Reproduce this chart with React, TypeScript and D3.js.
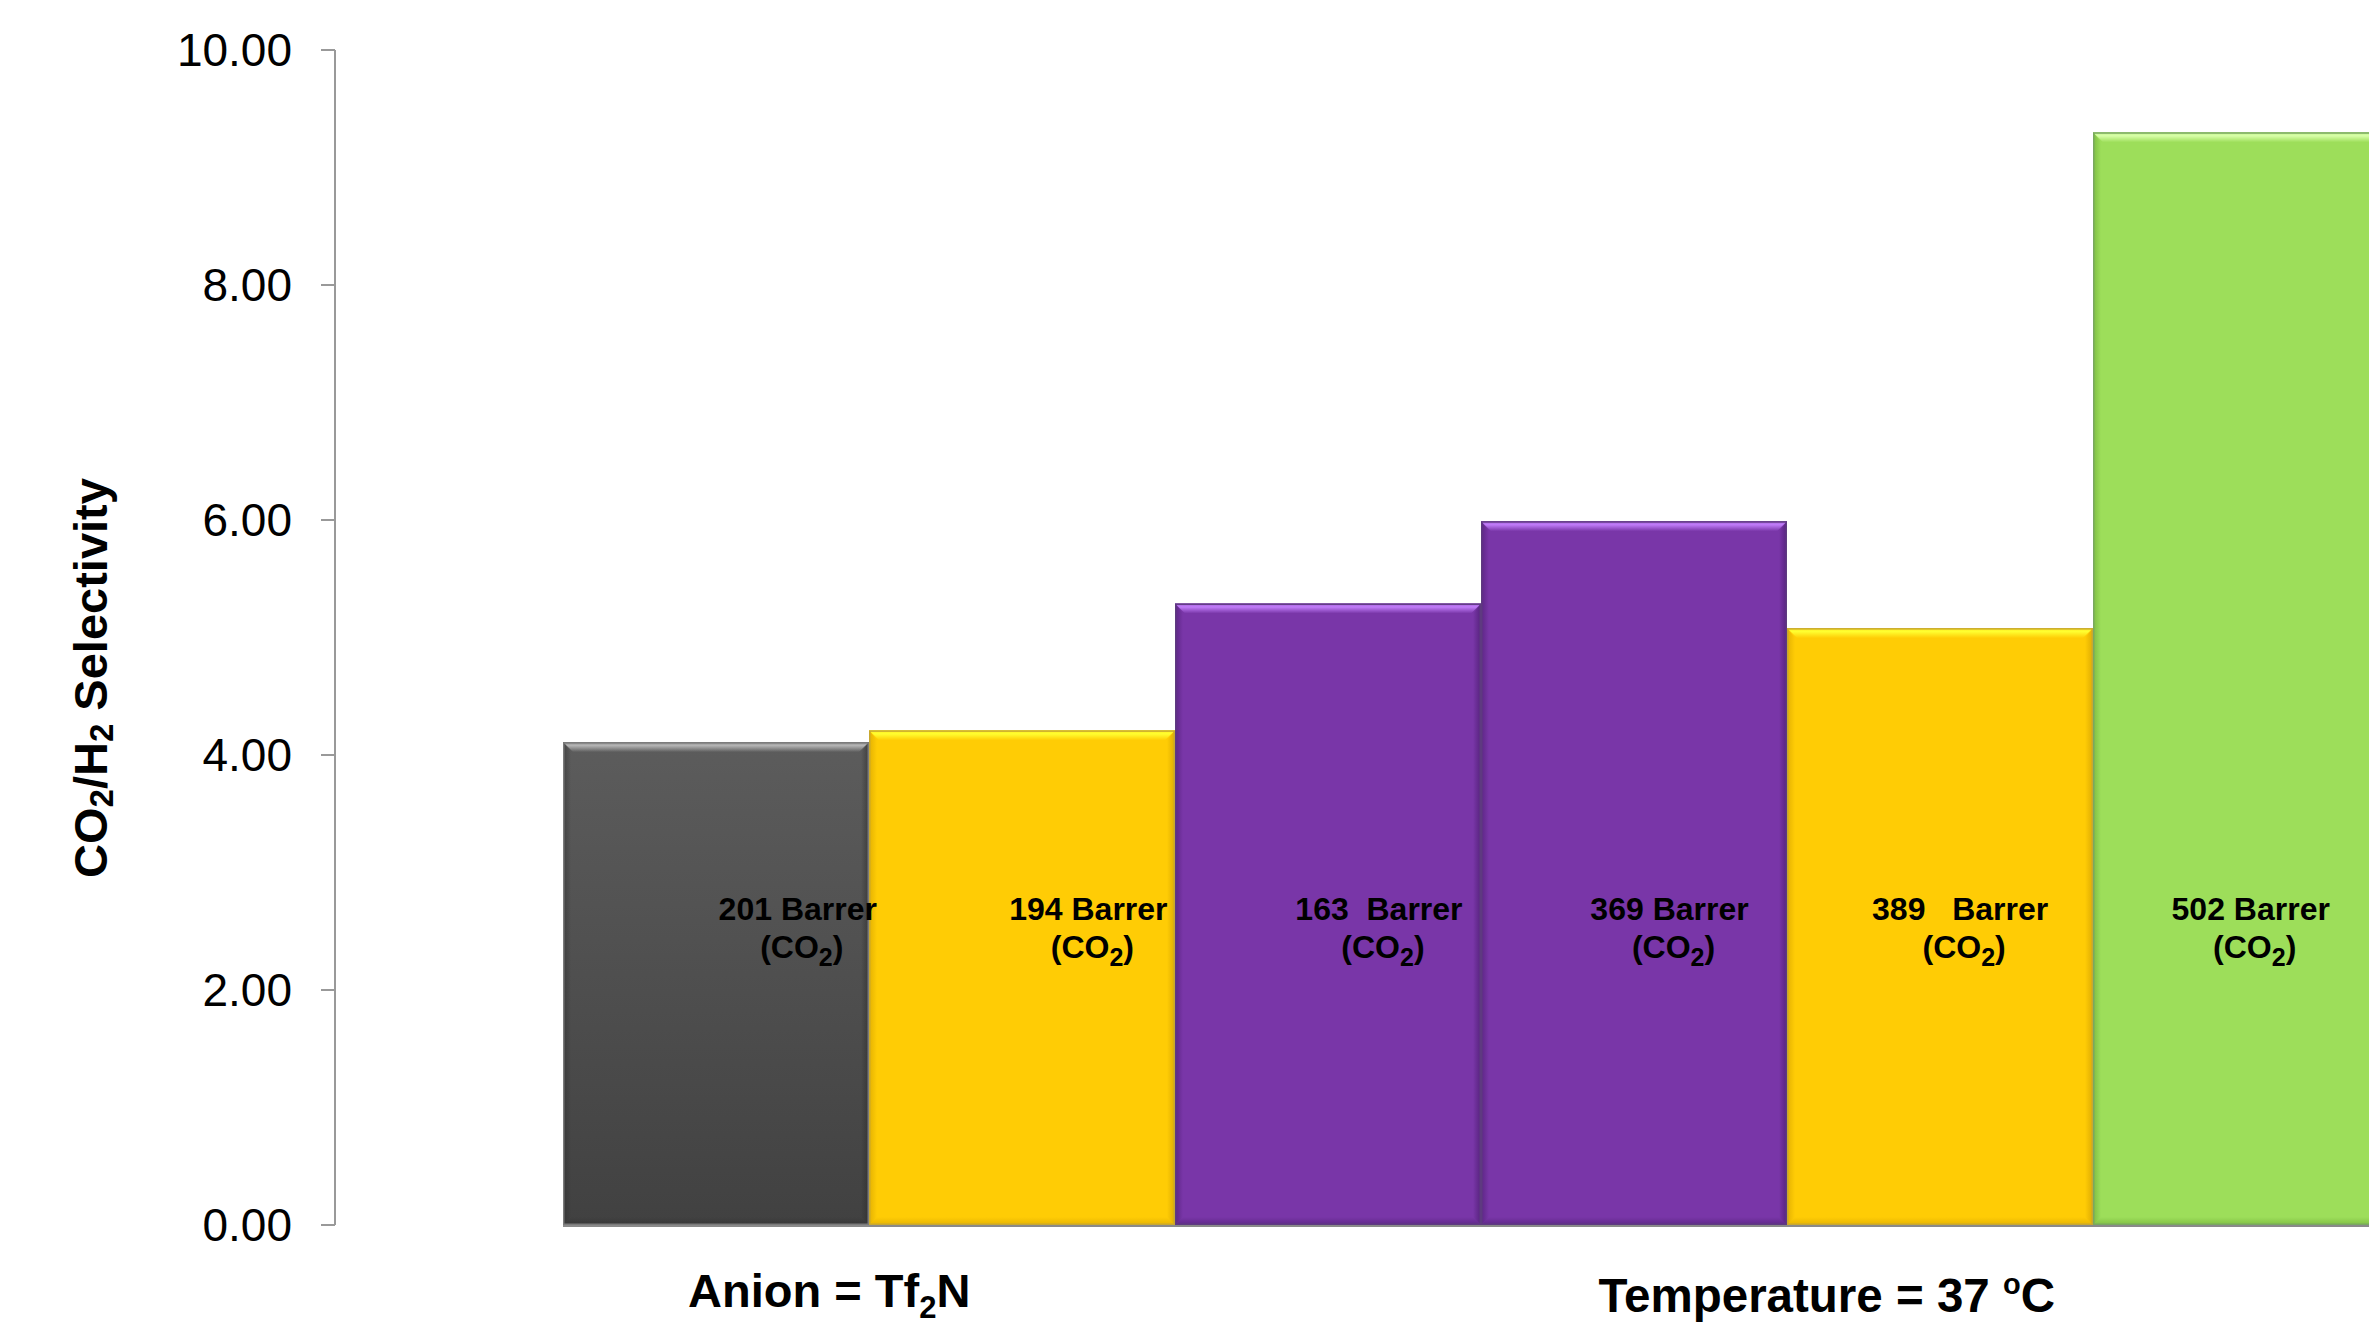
import React from "react";
import * as d3 from "d3";

// ---- data ----
const categories = ["201 Barrer", "194 Barrer", "163  Barrer", "369 Barrer", "389   Barrer", "502 Barrer"];
const selectivity = [4.11, 4.21, 5.29, 5.99, 5.08, 9.3];
const yTicks = [0, 2, 4, 6, 8, 10];
const groupLabelPos = [0.87, 4.13]; // position in category units

// ---- styles ----
const W = 2369;
const H = 1326;
const FONT = "'Liberation Sans', Arial, Helvetica, sans-serif";
const barStyles = [
  { fill: "url(#grayMain)", light: "#b4b4b4", dark: "#2a2a2a", stroke: "#7a7a7a" },
  { fill: "#FFCC05", light: "#FFFF30", dark: "#C89600", stroke: "#C8A830" },
  { fill: "#7936A8", light: "#C07CF8", dark: "#3E1660", stroke: "#5E3A80" },
  { fill: "#7936A8", light: "#C07CF8", dark: "#3E1660", stroke: "#5E3A80" },
  { fill: "#FFCC05", light: "#FFFF30", dark: "#C89600", stroke: "#C8A830" },
  { fill: "#9DDE5A", light: "#D8FFA8", dark: "#5E9A2A", stroke: "#7AA860" },
];

export default function App() {
  const margin = { left: 335, top: 50, bottom: 1225 };
  const y = d3.scaleLinear().domain([0, 10]).range([margin.bottom, margin.top]);
  const idx = categories.map((_, i) => i);
  const x = d3.scaleBand<number>().domain(idx).range([563, 2399]).padding(0);
  const labelX = d3.scaleBand<number>().domain(idx).range([652.5, 2396]).padding(0);
  const xCat = d3.scaleLinear().domain([0, categories.length]).range([563, 2399]);
  const bw = x.bandwidth();
  const fmt = d3.format(".2f");
  const b = 10;
  const s = 8;
  const y0 = y(0);

  return (
    <svg
      width={W}
      height={H}
      style={{ position: "absolute", left: 0, top: 0, overflow: "hidden", background: "#fff" }}
      fontFamily={FONT}
    >
      <defs>
        <linearGradient id="grayMain" x1="0" y1="0" x2="0" y2="1">
          <stop offset="0%" stopColor="#5c5c5c" />
          <stop offset="100%" stopColor="#414141" />
        </linearGradient>
        {barStyles.map((st, i) => (
          <g key={i}>
            <linearGradient id={`top${i}`} x1="0" y1="0" x2="0" y2="1">
              <stop offset="0%" stopColor={st.light} stopOpacity={0.6} />
              <stop offset="35%" stopColor={st.light} stopOpacity={1} />
              <stop offset="100%" stopColor={st.light} stopOpacity={0} />
            </linearGradient>
            <linearGradient id={`left${i}`} x1="0" y1="0" x2="1" y2="0">
              <stop offset="0%" stopColor={st.dark} stopOpacity={0.5} />
              <stop offset="100%" stopColor={st.dark} stopOpacity={0} />
            </linearGradient>
            <linearGradient id={`right${i}`} x1="1" y1="0" x2="0" y2="0">
              <stop offset="0%" stopColor={st.dark} stopOpacity={0.6} />
              <stop offset="100%" stopColor={st.dark} stopOpacity={0} />
            </linearGradient>
            <linearGradient id={`bot${i}`} x1="0" y1="1" x2="0" y2="0">
              <stop offset="0%" stopColor={st.dark} stopOpacity={0.45} />
              <stop offset="100%" stopColor={st.dark} stopOpacity={0} />
            </linearGradient>
          </g>
        ))}
      </defs>

      {/* y axis */}
      <line x1={margin.left} x2={margin.left} y1={y(10)} y2={y0} stroke="#999" strokeWidth={2} />
      {yTicks.map((t) => (
        <g key={t} transform={`translate(${margin.left},${y(t)})`}>
          <line x1={-14} x2={0} stroke="#999" strokeWidth={2} />
          <text x={-43} dy="0.35em" textAnchor="end" fontSize={46} fill="#000">
            {fmt(t)}
          </text>
        </g>
      ))}

      {/* y title */}
      <text
        transform={`translate(107,678) rotate(-90)`}
        textAnchor="middle"
        fontSize={47}
        fontWeight="bold"
        fill="#000"
      >
        CO
        <tspan fontSize={33} dy={6}>2</tspan>
        <tspan dy={-6}>/H</tspan>
        <tspan fontSize={33} dy={6}>2</tspan>
        <tspan dy={-6}> Selectivity</tspan>
      </text>

      {/* bars */}
      {selectivity.map((v, i) => {
        const x0 = x(i)!;
        const x1 = x0 + bw;
        const yt = y(v);
        const st = barStyles[i];
        return (
          <g key={i}>
            <rect x={x0} y={yt} width={bw} height={y0 - yt} fill={st.fill} />
            <polygon
              points={`${x0},${yt} ${x0 + s},${yt + b} ${x0 + s},${y0 - s} ${x0},${y0}`}
              fill={`url(#left${i})`}
            />
            <polygon
              points={`${x1},${yt} ${x1 - s},${yt + b} ${x1 - s},${y0 - s} ${x1},${y0}`}
              fill={`url(#right${i})`}
            />
            <polygon
              points={`${x0},${y0} ${x0 + s},${y0 - s} ${x1 - s},${y0 - s} ${x1},${y0}`}
              fill={`url(#bot${i})`}
            />
            <polygon
              points={`${x0},${yt} ${x1},${yt} ${x1 - b},${yt + b} ${x0 + b},${yt + b}`}
              fill={`url(#top${i})`}
            />
            <rect
              x={x0 + 0.75}
              y={yt + 0.75}
              width={bw - 1.5}
              height={y0 - yt - 1.5}
              fill="none"
              stroke={st.stroke}
              strokeWidth={1.5}
            />
          </g>
        );
      })}
      <line x1={x(0)!} x2={W} y1={y0 + 1} y2={y0 + 1} stroke="#8a8a8a" strokeWidth={2} />

      {/* bar labels */}
      {categories.map((c, i) => {
        const cx = labelX(i)! + labelX.bandwidth() / 2;
        const ly = y(2.6);
        return (
          <g key={i} fontWeight="bold" fontSize={32} fill="#000" textAnchor="middle">
            <text x={cx} y={ly} style={{ whiteSpace: "pre" }}>
              {c}
            </text>
            <text x={cx + 4} y={ly + 38}>
              (CO
              <tspan fontSize={25} dy={8}>2</tspan>
              <tspan dy={-8}>)</tspan>
            </text>
          </g>
        );
      })}

      {/* group labels */}
      <text x={xCat(groupLabelPos[0])} y={1307} textAnchor="middle" fontSize={47} fontWeight="bold" fill="#000">
        Anion = Tf
        <tspan fontSize={31} dy={11}>2</tspan>
        <tspan dy={-11}>N</tspan>
      </text>
      <text x={xCat(groupLabelPos[1])} y={1312} textAnchor="middle" fontSize={47.5} fontWeight="bold" fill="#000">
        Temperature = 37{" "}
        <tspan fontSize={29} dy={-18}>o</tspan>
        <tspan dy={18}>C</tspan>
      </text>
    </svg>
  );
}
